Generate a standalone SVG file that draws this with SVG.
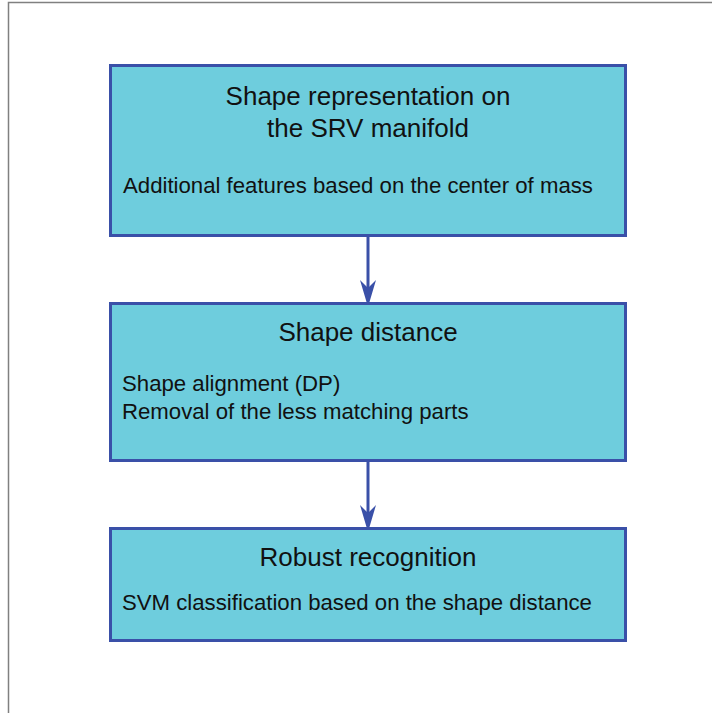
<svg xmlns="http://www.w3.org/2000/svg" width="712" height="713" viewBox="0 0 712 713">
<style>
.box{fill:#6ecddd;stroke:#3a50a8;stroke-width:3}
.t{font-family:"Liberation Sans",Arial,sans-serif;fill:#111}
.h{font-size:26px;text-anchor:middle}
.b{font-size:22.2px}
.c{stroke:#3a50a8;stroke-width:3;fill:none}
.ah{fill:#3a50a8}
</style>
<rect width="712" height="713" fill="#fff"/>
<path d="M8.5,713 V2.5 H712" fill="none" stroke="#808080" stroke-width="1.5"/>
<g id="connectors">
<path class="c" d="M368,236 V292"/>
<path class="ah" d="M368,307 L360,280 L368,288 L376,280 Z"/>
<path class="c" d="M368,461 V517"/>
<path class="ah" d="M368,532 L360,505 L368,513 L376,505 Z"/>
</g>
<g id="node1">
<rect class="box" x="110.5" y="65.5" width="515" height="170"/>
<text class="t h" x="368" y="105">Shape representation on</text>
<text class="t h" x="368" y="137">the SRV manifold</text>
<text class="t b" x="123" y="193">Additional features based on the center of mass</text>
</g>
<g id="node2">
<rect class="box" x="110.5" y="303.5" width="515" height="157"/>
<text class="t h" x="368" y="341">Shape distance</text>
<text class="t b" x="122" y="391">Shape alignment (DP)</text>
<text class="t b" x="122" y="419">Removal of the less matching parts</text>
</g>
<g id="node3">
<rect class="box" x="110.5" y="528.5" width="515" height="112"/>
<text class="t h" x="368" y="566">Robust recognition</text>
<text class="t b" x="122" y="610">SVM classification based on the shape distance</text>
</g>
</svg>
